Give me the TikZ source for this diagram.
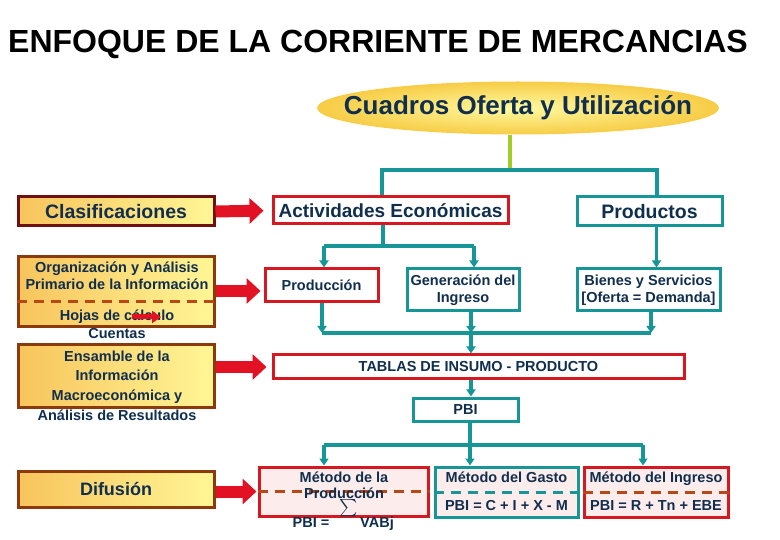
\documentclass[tikz,border=0pt]{standalone}
\usepackage{amsmath}
\usepackage{fontspec}
\setmainfont{Liberation Sans}
\usepackage{tikz}
\usetikzlibrary{shapes.geometric, arrows.meta, positioning, calc}
\usepackage{xcolor}

\definecolor{navy}{RGB}{16,46,78}
\definecolor{tealc}{RGB}{22,150,150}
\definecolor{redbd}{RGB}{214,24,32}
\definecolor{redarr}{RGB}{226,18,36}
\definecolor{brownbd}{RGB}{140,58,12}
\definecolor{darkbd}{RGB}{112,16,16}
\definecolor{dashbrown}{RGB}{184,72,22}
\definecolor{yorange}{RGB}{248,196,92}
\definecolor{ylight}{RGB}{255,246,150}
\definecolor{limec}{RGB}{164,204,40}
\definecolor{pinkfill}{RGB}{253,236,236}

\begin{document}
\begin{tikzpicture}[
    x=1pt, y=-1pt,
    lbox/.style={rectangle, draw=brownbd, line width=3pt, left color=yorange, right color=ylight, minimum width=196pt, inner sep=0pt},
    redbox/.style={rectangle, draw=redbd, line width=3pt, fill=white, inner sep=0pt, text=navy, font=\bfseries\fontsize{14.5}{17}\selectfont, align=center},
    tealbox/.style={rectangle, draw=tealc, line width=3pt, fill=white, inner sep=0pt, text=navy, font=\bfseries\fontsize{14.5}{17}\selectfont, align=center},
    metbox/.style={rectangle, line width=3pt, fill=pinkfill, inner sep=0pt},
    txt/.style={text=navy, font=\bfseries\fontsize{14.5}{17}\selectfont, align=center, inner sep=0pt},
    oneline/.style={txt, text height=10.5pt, text depth=3pt},
    tealline/.style={draw=tealc, line width=3.5pt},
    tealarrow/.style={tealline, -{Triangle[length=7pt,width=9pt]}},
    redarrow/.style={draw=redarr, line width=12pt, -{Triangle[length=14pt,width=25pt]}},
    dashline/.style={line width=3pt, dash pattern=on 10pt off 7pt}
]
    \useasboundingbox (0,0) rectangle (780,540);

    % Title
    \node[font=\bfseries\fontsize{32}{36}\selectfont, inner sep=0pt] (title) at (378,44) {ENFOQUE DE LA CORRIENTE DE MERCANCIAS};
    \node[ellipse, minimum height=53pt, inner xsep=-32pt, inner ysep=0pt, inner color={rgb,255:red,255;green,250;blue,160}, outer color={rgb,255:red,247;green,204;blue,70}, text=navy, font=\bfseries\fontsize{26}{28}\selectfont] (cuadros) at (518,108) {Cuadros Oferta y Utilizaci\'on};

    % Left column
    \node[lbox, draw=darkbd, minimum height=29pt, text=navy, font=\bfseries\fontsize{19.5}{22}\selectfont] (clasif) at (116,211.5) {Clasificaciones};
    \node[lbox, minimum height=70pt] (org) at (116,292) {};
    \node[lbox, minimum height=62pt] (ensam) at (116,376) {};
    \node[lbox, minimum height=36pt, text=navy, font=\bfseries\fontsize{18}{21}\selectfont] (difus) at (116,489) {Difusi\'on};
    \draw[dashline, dashbrown] ([yshift=-10pt]org.west) -- ([yshift=-10pt]org.east);
    \node[txt] (orgtxt) at (117,275.5) {Organizaci\'on y An\'alisis\\Primario de la Informaci\'on};
    \node[txt, font=\bfseries\fontsize{14.5}{18}\selectfont] (hojas) at (117,324) {Hojas de c\'alculo\\Cuentas};
    \node[txt, font=\bfseries\fontsize{14.5}{19.7}\selectfont] (ensamtxt) at (117,385.5) {Ensamble de la\\Informaci\'on\\Macroecon\'omica y\\An\'alisis de Resultados};
    \coordinate (hs) at (132,317);
    \coordinate (he) at (161,317);
    \draw[draw=redarr, line width=5pt, -{Triangle[length=9pt,width=12pt]}] (hs) -- (he);

    % Upper boxes
    \node[redbox, minimum width=235pt, minimum height=27pt, font=\bfseries\fontsize{19}{22}\selectfont] (activ) at (390.5,210.5) {Actividades Econ\'omicas};
    \node[tealbox, minimum width=145pt, minimum height=29pt, font=\bfseries\fontsize{19.5}{22}\selectfont] (prods) at (649.5,211.5) {Productos};
    \node[redbox, minimum width=113pt, minimum height=33pt] (prodn) at (321.5,285.5) {Producci\'on};
    \node[tealbox, minimum width=112pt, minimum height=42pt] (gener) at (463,290) {Generaci\'on del\\Ingreso};
    \node[tealbox, minimum width=143pt, minimum height=42pt] (bienes) at (648.5,290) {Bienes y Servicios\\{[}Oferta = Demanda{]}};

    % Lower boxes
    \node[redbox, minimum width=411pt, minimum height=24pt] (tablas) at (478.5,367) {TABLAS DE INSUMO - PRODUCTO};
    \node[tealbox, minimum width=105pt, minimum height=23pt] (pbi) at (465.5,409.5) {PBI};
    \node[metbox, draw=redbd, minimum width=169pt, minimum height=49pt] (mprod) at (343.5,491.5) {};
    \node[metbox, draw=tealc, minimum width=143pt, minimum height=50pt] (mgasto) at (506.5,492) {};
    \node[metbox, draw=redbd, minimum width=144pt, minimum height=50pt] (mingr) at (656,492) {};
    \draw[dashline, dashbrown] (mprod.west) -- (mprod.east);
    \draw[dashline, tealc] (mgasto.west) -- (mgasto.east);
    \draw[dashline, dashbrown] (mingr.west) -- (mingr.east);
    \node[text=navy, inner sep=0pt, font=\fontsize{18}{20}\selectfont] (sigma) at (349,508) {$\sum$};
    \node[txt, font=\bfseries\fontsize{14.5}{16}\selectfont] (mprodtxt) at (344,485) {M\'etodo de la\\Producci\'on};
    \node[oneline] (pbieq) at (311,524) {PBI =};
    \node[oneline] (vabj) at (377,524) {VABj};
    \node[oneline] (gastotxt) at (506.5,479) {M\'etodo del Gasto};
    \node[oneline] (gastoeq) at (506.5,507) {PBI = C + I + X - M};
    \node[oneline] (ingrtxt) at (656,479) {M\'etodo del Ingreso};
    \node[oneline] (ingreq) at (656,507) {PBI = R + Tn + EBE};

    % Connectors from the top
    \coordinate (cj) at (510,170);
    \coordinate (cl) at (382,170);
    \coordinate (cr) at (657,170);
    \draw[draw=limec, line width=4pt] (cj |- cuadros.south) -- (cj);
    \draw[tealline] (cl |- activ.north) -- (cl) -- (cr) -- (cr |- prods.north);

    \coordinate (aj) at (383,246);
    \coordinate (a1) at (324,246);
    \coordinate (a2) at (474,246);
    \draw[tealline] (aj |- activ.south) -- (aj);
    \draw[tealline] (a1) -- (a2);
    \draw[tealarrow] (a1) -- (a1 |- prodn.north);
    \draw[tealarrow] (a2) -- (a2 |- gener.north);
    \draw[tealarrow] ([xshift=7pt]prods.south) -- ([xshift=8pt]bienes.north);

    \coordinate (b1) at (322,333);
    \coordinate (b2) at (471,333);
    \coordinate (b3) at (651,333);
    \draw[tealline] (b1) -- (b3);
    \draw[tealarrow] (b1 |- prodn.south) -- (b1);
    \draw[tealarrow] (b2 |- gener.south) -- (b2);
    \draw[tealarrow] (b3 |- bienes.south) -- (b3);
    \draw[tealarrow] (b2) -- (b2 |- tablas.north);
    \draw[tealarrow] (b2 |- tablas.south) -- (b2 |- pbi.north);

    \coordinate (c1) at (324,445);
    \coordinate (c2) at (470,445);
    \coordinate (c3) at (643,445);
    \draw[tealline] (c2 |- pbi.south) -- (c2);
    \draw[tealline] (c1) -- (c3);
    \draw[tealarrow] (c1) -- (c1 |- mprod.north);
    \draw[tealarrow] (c2) -- (c2 |- mgasto.north);
    \draw[tealarrow] (c3) -- (c3 |- mingr.north);

    % Red arrows
    \draw[redarrow, shorten >=8pt] (clasif.east) -- (activ.west);
    \draw[redarrow, shorten >=3pt] (org.east |- 0,291) -- (prodn.west |- 0,291);
    \draw[redarrow, shorten >=5pt] (tablas.west -| ensam.east) -- (tablas.west);
    \draw[redarrow, shorten >=1pt] (mprod.west -| difus.east) -- (mprod.west);
\end{tikzpicture}
\end{document}
